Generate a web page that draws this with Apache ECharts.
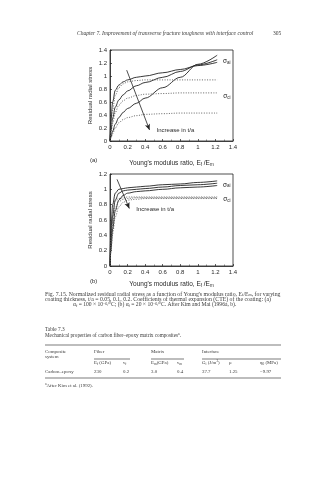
<!DOCTYPE html>
<html><head><meta charset="utf-8">
<script src="https://cdn.jsdelivr.net/npm/echarts@6/dist/echarts.min.js"></script>
<style>html,body{margin:0;padding:0;background:#fff}#c{width:336px;height:480px}</style>
</head><body><div id="c"></div>
<script>
// ---- data ----
var xs = [0, 0.01, 0.03, 0.06, 0.1, 0.15, 0.2, 0.3, 0.4, 0.6, 0.8, 1.0, 1.22];
// Panel (a): alpha_f = 100e-6
var aSolid1 = [0, 0.30, 0.60, 0.78, 0.86, 0.91, 0.94, 0.98, 1.00, 1.05, 1.10, 1.16, 1.21];
var aSolid2 = [0, 0.15, 0.35, 0.52, 0.63, 0.71, 0.77, 0.85, 0.90, 0.98, 1.07, 1.17, 1.25];
var aSolid3 = [0, 0.06, 0.15, 0.26, 0.36, 0.44, 0.50, 0.58, 0.66, 0.82, 0.98, 1.18, 1.32];
var aDot1 = [0, 0.20, 0.48, 0.70, 0.82, 0.88, 0.91, 0.93, 0.94, 0.94, 0.94, 0.94, 0.94];
var aDot2 = [0, 0.10, 0.27, 0.44, 0.55, 0.62, 0.66, 0.70, 0.72, 0.73, 0.74, 0.74, 0.74];
var aDot3 = [0, 0.04, 0.11, 0.20, 0.28, 0.33, 0.36, 0.39, 0.41, 0.42, 0.43, 0.43, 0.43];
// Panel (b): alpha_f = 20e-6
var bSolid1 = [0, 0.45, 0.80, 0.95, 1.00, 1.01, 1.02, 1.03, 1.04, 1.06, 1.07, 1.09, 1.11];
var bSolid2 = [0, 0.32, 0.65, 0.86, 0.95, 0.98, 0.99, 1.00, 1.01, 1.03, 1.05, 1.06, 1.08];
var bSolid3 = [0, 0.20, 0.48, 0.72, 0.86, 0.92, 0.95, 0.97, 0.98, 1.00, 1.02, 1.03, 1.05];
var bDot1 = [0, 0.40, 0.72, 0.85, 0.88, 0.89, 0.90, 0.90, 0.90, 0.90, 0.90, 0.90, 0.90];
var bDot2 = [0, 0.28, 0.57, 0.76, 0.84, 0.87, 0.88, 0.89, 0.89, 0.89, 0.89, 0.89, 0.89];
var bDot3 = [0, 0.18, 0.42, 0.64, 0.77, 0.83, 0.86, 0.87, 0.88, 0.88, 0.88, 0.88, 0.88];
// annotations (data coords)
var arrowA = [[0.19, 1.09], [0.45, 0.17]];
var arrowB = [[0.08, 1.13], [0.22, 0.75]];
var textA = [0.53, 0.16];
var textB = [0.30, 0.74];
var sigmaAiA = [1.33, 1.23], sigmaCiA = [1.33, 0.69];
var sigmaAiB = [1.33, 1.06], sigmaCiB = [1.33, 0.87];
var xTicks = {min: 0, max: 1.4, interval: 0.2};
var yTicksA = {min: 0, max: 1.4, interval: 0.2};
var yTicksB = {min: 0, max: 1.2, interval: 0.2};
var axisTitleX = "Young's modulus ratio, E{s|f} /E{s|m}";
var axisTitleY = "Residual radial stress";
var captionLines = [
  "Fig. 7.15. Normalized residual radial stress as a function of Young's modulus ratio, E{s|f}/E{s|m}, for varying",
  "coating thickness, t/a = 0.05, 0.1, 0.2. Coefficients of thermal expansion (CTE) of the coating: (a)",
  "\u03b1{s|f} = 100 \u00d7 10{p|\u22126}/\u00b0C; (b) \u03b1{s|f} = 20 \u00d7 10{p|\u22126}/\u00b0C. After Kim and Mai (1996a, b)."
];
var tableRow = ["Carbon\u2013epoxy", "230", "0.2", "3.0", "0.4", "37.7", "1.25", "\u22129.97"];

// ---- chart ----
var SANS = 'Liberation Sans', SERIF = 'Liberation Serif';
var TXT = '#2a2a2a', BODY = '#3a3a3a';
function pairs(ys){ return xs.map(function(x,i){ return [x, ys[i]]; }); }
var subRich = { s: {fontSize: 4.5, verticalAlign: 'bottom', padding:[3,0,0,0], fontFamily: SANS, color: TXT} };

function xAxis(gi, gap){
  return { type:'value', gridIndex: gi, min: xTicks.min, max: xTicks.max, interval: xTicks.interval,
    name: axisTitleX, nameLocation:'middle', nameGap: gap,
    nameTextStyle:{fontFamily:SANS, fontSize:6.5, color:TXT, rich:{s:{fontSize:4.5, padding:[3,0,0,0], fontFamily:SANS, color:TXT}}},
    axisLine:{show:true, lineStyle:{color:'#222', width:0.8}},
    axisTick:{show:true, inside:true, length:2, lineStyle:{color:'#222', width:0.7}},
    minorTick:{show:true, splitNumber:2, length:1.5, lineStyle:{color:'#444', width:0.6}},
    axisLabel:{fontFamily:SANS, fontSize:6, color:TXT, margin:3},
    splitLine:{show:false} };
}
function yAxis(gi, t){
  return { type:'value', gridIndex: gi, min: t.min, max: t.max, interval: t.interval,
    name: axisTitleY, nameLocation:'middle', nameGap: 17,
    nameTextStyle:{fontFamily:SANS, fontSize:6, color:TXT},
    axisLine:{show:true, lineStyle:{color:'#222', width:0.8}},
    axisTick:{show:true, inside:true, length:2, lineStyle:{color:'#222', width:0.7}},
    axisLabel:{fontFamily:SANS, fontSize:6, color:TXT, margin:3},
    splitLine:{show:false} };
}
function line(gi, ys, dotted){
  return { type:'line', xAxisIndex:gi, yAxisIndex:gi, data: pairs(ys), showSymbol:false, symbol:'none',
    smooth:0.35, smoothMonotone:'x', silent:true,
    lineStyle: dotted ? {color:'#555', width:0.9, type:[1,1.5]} : {color:'#222', width:0.9} };
}
function anno(gi, arrow, txt, ai, ci){
  return { type:'line', xAxisIndex:gi, yAxisIndex:gi, data:[], silent:true,
    markLine:{ silent:true, symbol:['none','arrow'], symbolSize:[4,6], label:{show:false},
      lineStyle:{color:'#222', width:0.8, type:'solid'},
      data:[[{coord:arrow[0]},{coord:arrow[1]}]] },
    markPoint:{ silent:true, symbol:'circle', symbolSize:0,
      data:[
        {coord:txt, label:{show:true, position:'right', distance:0, formatter:'Increase in t/a', fontFamily:SANS, fontSize:6, color:TXT}},
        {coord:ai, label:{show:true, position:'inside', formatter:'\u03c3{s|ai}', fontFamily:SANS, fontSize:6.5, color:TXT, rich:subRich}},
        {coord:ci, label:{show:true, position:'inside', formatter:'\u03c3{s|ci}', fontFamily:SANS, fontSize:6.5, color:TXT, rich:subRich}}
      ] } };
}

function T(x, y, text, o){
  o = o || {};
  return { type:'text', silent:true, style:{ x:x, y:y, text:text, fill:o.fill||BODY,
    font:(o.style||'normal')+' '+(o.size||5)+'px "'+(o.family||SERIF)+'"',
    textAlign:o.align||'left', textVerticalAlign:'middle',
    rich:{ s:{fontSize:(o.size||5)*0.7, padding:[2,0,0,0], fontFamily:o.family||SERIF, fill:o.fill||BODY},
           p:{fontSize:(o.size||5)*0.7, padding:[0,0,3,0], fontFamily:o.family||SERIF, fill:o.fill||BODY} } } };
}
function L(x1, y1, x2, y2){
  return { type:'line', silent:true, shape:{x1:x1, y1:y1, x2:x2, y2:y2}, style:{stroke:'#444', lineWidth:0.7} };
}

var graphics = [
  T(77, 34, 'Chapter 7. Improvement of transverse fracture toughness with interface control', {style:'italic', size:5.55}),
  T(273, 34, '305', {size:5.5}),
  T(90, 160, '(a)', {family:SANS, size:6, fill:TXT}),
  T(90, 281, '(b)', {family:SANS, size:6, fill:TXT}),
  T(45, 294, captionLines[0], {size:5.8}),
  T(45, 299.5, captionLines[1], {size:5.8}),
  T(73, 305, captionLines[2], {size:5.6}),
  T(45, 330, 'Table 7.3', {size:5.3}),
  T(45, 336, 'Mechanical properties of carbon fiber\u2013epoxy matrix composites{p|a}.', {size:5.2}),
  L(45, 345, 281, 345),
  T(45, 351.5, 'Composite', {size:4.9}),
  T(45, 356.5, 'system', {size:4.9}),
  T(94, 351.5, 'Fiber', {size:4.9}),
  T(151, 351.5, 'Matrix', {size:4.9}),
  T(202, 351.5, 'Interface', {size:4.9}),
  L(94, 359, 130, 359), L(151, 359, 184, 359), L(202, 359, 281, 359),
  T(94, 363, 'E{s|f} (GPa)', {size:4.9}),
  T(123, 363, '\u03bd{s|f}', {size:4.9}),
  T(151, 363, 'E{s|m}(GPa)', {size:4.9}),
  T(177, 363, '\u03bd{s|m}', {size:4.9}),
  T(202, 363, 'G{s|i} (J/m{p|2})', {size:4.9}),
  T(229, 363, '\u03bc', {size:4.9}),
  T(260, 363, 'q{s|0} (MPa)', {size:4.9}),
  T(45, 372, tableRow[0], {size:4.9}),
  T(94, 372, tableRow[1], {size:4.9}),
  T(123, 372, tableRow[2], {size:4.9}),
  T(151, 372, tableRow[3], {size:4.9}),
  T(177, 372, tableRow[4], {size:4.9}),
  T(202, 372, tableRow[5], {size:4.9}),
  T(229, 372, tableRow[6], {size:4.9}),
  T(260, 372, tableRow[7], {size:4.9}),
  L(45, 378, 281, 378),
  T(45, 386, '{p|a}After Kim et al. (1992).', {size:4.9})
];

var chart = echarts.init(document.getElementById('c'), null, {renderer:'canvas'});
chart.setOption({
  backgroundColor:'#fff',
  animation:false,
  grid:[
    {left:110, top:50, width:123, height:91, show:true, borderColor:'#222', borderWidth:0.8, backgroundColor:'transparent'},
    {left:110, top:174, width:123, height:92, show:true, borderColor:'#222', borderWidth:0.8, backgroundColor:'transparent'}
  ],
  xAxis:[ xAxis(0, 18), xAxis(1, 14) ],
  yAxis:[ yAxis(0, yTicksA), yAxis(1, yTicksB) ],
  series:[
    line(0, aSolid1), line(0, aSolid2), line(0, aSolid3),
    line(0, aDot1, true), line(0, aDot2, true), line(0, aDot3, true),
    line(1, bSolid1), line(1, bSolid2), line(1, bSolid3),
    line(1, bDot1, true), line(1, bDot2, true), line(1, bDot3, true),
    anno(0, arrowA, textA, sigmaAiA, sigmaCiA),
    anno(1, arrowB, textB, sigmaAiB, sigmaCiB)
  ],
  graphic: graphics
});
</script></body></html>
